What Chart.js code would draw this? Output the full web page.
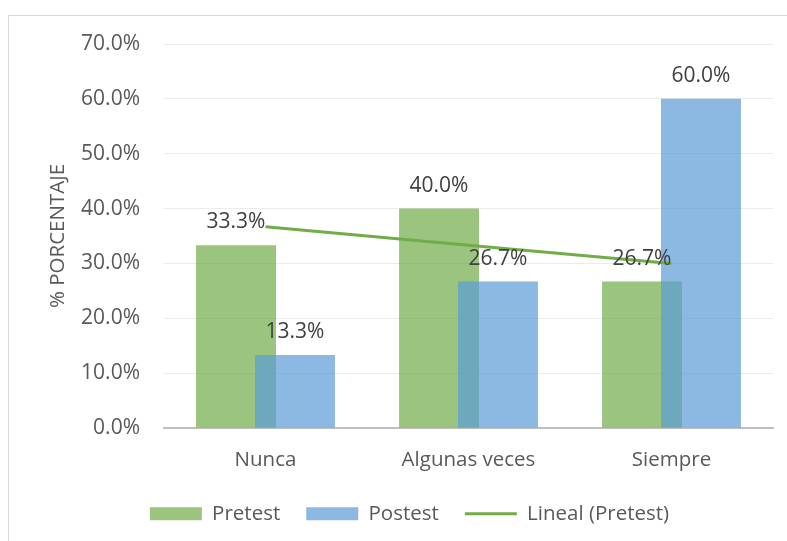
<!DOCTYPE html>
<html>
<head>
<meta charset="utf-8">
<script src="https://cdn.jsdelivr.net/npm/chart.js@4/dist/chart.umd.min.js"></script>
<style>
  html, body { margin: 0; padding: 0; background: #fff; }
  #wrap { width: 787px; height: 541px; }
</style>
</head>
<body>
<div id="wrap"><canvas id="chart" width="787" height="541"></canvas></div>
<script>
// data
const categories = ["Nunca", "Algunas veces", "Siempre"];
const pretest = [33.3, 40.0, 26.7];
const postest = [13.3, 26.7, 60.0];
const trendPretest = [36.7, 33.3, 30.0]; // "Lineal (Pretest)"
const yTicks = [0, 10, 20, 30, 40, 50, 60, 70];

const GREEN = "rgba(112,173,71,0.7)";
const BLUE = "rgba(91,155,213,0.7)";
const TEXT = "#595959";
const FONT = "'Open Sans', sans-serif";

// outer frame like the Excel chart area
const framePlugin = {
  id: "frame",
  beforeDraw(chart) {
    const ctx = chart.ctx;
    ctx.save();
    ctx.strokeStyle = "#D9D9D9";
    ctx.lineWidth = 1;
    ctx.strokeRect(8.5, 15.5, 820, 600);
    ctx.restore();
  }
};

// Chart.js paints the first bar series last; Excel has Postest over Pretest,
// so hold Postest back and paint it right after Pretest
const overlapOrder = {
  id: "overlapOrder",
  beforeDatasetDraw(chart, args) {
    if (args.index === 1) return false;
  },
  afterDatasetDraw(chart, args) {
    if (args.index === 0) chart.getDatasetMeta(1).controller.draw();
  }
};

// value labels above the bars
const barLabels = {
  id: "barLabels",
  afterDatasetsDraw(chart) {
    const ctx = chart.ctx;
    ctx.save();
    ctx.font = "21px " + FONT;
    ctx.fillStyle = "#404040";
    ctx.textAlign = "center";
    ctx.textBaseline = "middle";
    chart.data.datasets.forEach((ds, i) => {
      if (ds.type !== "bar") return;
      chart.getDatasetMeta(i).data.forEach((el, j) => {
        ctx.fillText(ds.data[j].toFixed(1) + "%", el.x, el.y - 23);
      });
    });
    ctx.restore();
  }
};

new Chart(document.getElementById("chart"), {
  data: {
    labels: categories,
    datasets: [
      {
        type: "bar",
        label: "Pretest",
        data: pretest,
        backgroundColor: GREEN,
        categoryPercentage: 0.581,
        barPercentage: 1.356
      },
      {
        type: "bar",
        label: "Postest",
        data: postest,
        backgroundColor: BLUE,
        categoryPercentage: 0.581,
        barPercentage: 1.356
      },
      {
        type: "line",
        label: "Lineal (Pretest)",
        data: trendPretest,
        borderColor: "#70AD47",
        borderWidth: 3,
        pointRadius: 0,
        fill: false,
        tension: 0,
        order: -1
      }
    ]
  },
  options: {
    responsive: false,
    animation: false,
    layout: { padding: { left: 46, right: 14, top: 44, bottom: 7 } },
    plugins: {
      tooltip: { enabled: false },
      legend: {
        position: "bottom",
        labels: {
          usePointStyle: true,
          pointStyleWidth: 52,
          boxHeight: 13,
          padding: 26,
          color: TEXT,
          font: { family: FONT, size: 20.5 },
          generateLabels(chart) {
            return chart.data.datasets.map((ds, i) => ({
              text: ds.label,
              fillStyle: ds.type === "bar" ? ds.backgroundColor : "rgba(0,0,0,0)",
              strokeStyle: ds.type === "bar" ? "rgba(0,0,0,0)" : ds.borderColor,
              lineWidth: ds.type === "bar" ? 0 : 3,
              pointStyle: ds.type === "bar" ? "rect" : "line",
              fontColor: TEXT,
              datasetIndex: i
            }));
          }
        }
      }
    },
    scales: {
      x: {
        grid: { display: false, drawTicks: false },
        border: { color: "#BFBFBF", width: 2 },
        ticks: { color: TEXT, font: { family: FONT, size: 20.5 }, padding: 20 },
        afterFit(scale) { scale.height = 49.5; }
      },
      y: {
        min: 0,
        max: 70,
        afterBuildTicks(scale) {
          scale.ticks = yTicks.map(v => ({ value: v }));
        },
        afterFit(scale) { scale.width = 118; },
        grid: { color: "#EBEBEB", drawTicks: false },
        border: { display: false },
        ticks: {
          color: TEXT,
          font: { family: FONT, size: 21 },
          padding: 24,
          callback: v => v.toFixed(1) + "%"
        },
        title: {
          display: true,
          text: "% PORCENTAJE",
          color: TEXT,
          font: { family: FONT, size: 20.5 },
          padding: { top: 0, bottom: 0 }
        }
      }
    }
  },
  plugins: [framePlugin, overlapOrder, barLabels]
});
</script>
</body>
</html>
